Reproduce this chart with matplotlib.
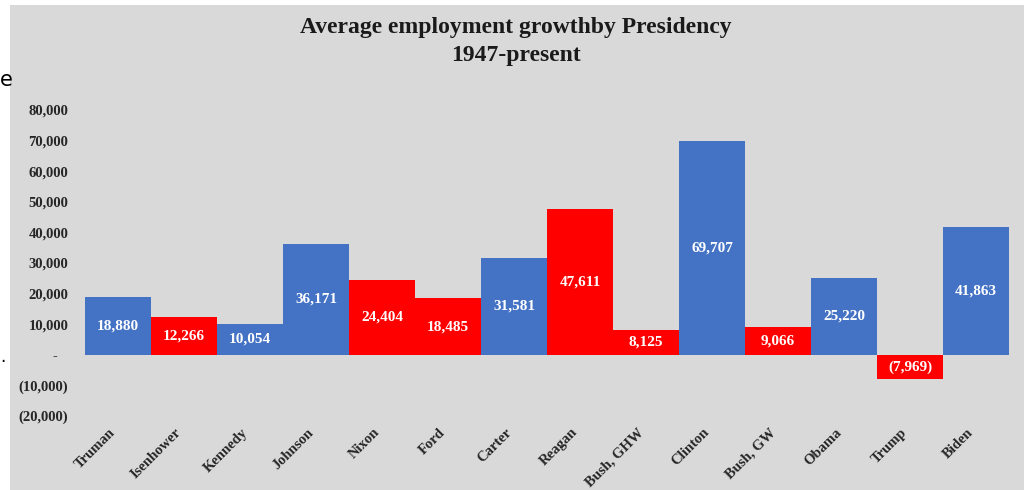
import matplotlib.pyplot as plt
from matplotlib.patches import Rectangle
from matplotlib.ticker import FuncFormatter
from matplotlib.transforms import ScaledTranslation

presidents = ["Truman", "Isenhower", "Kennedy", "Johnson", "Nixon", "Ford", "Carter",
              "Reagan", "Bush, GHW", "Clinton", "Bush, GW", "Obama", "Trump", "Biden"]
growth = [18880, 12266, 10054, 36171, 24404, 18485, 31581,
          47611, 8125, 69707, 9066, 25220, -7969, 41863]
party = ["D", "R", "D", "D", "R", "R", "D", "R", "R", "D", "R", "D", "R", "D"]

colors = {"D": "#4472c4", "R": "#ff0000"}
serif = ["Liberation Serif", "DejaVu Serif"]

fig = plt.figure(figsize=(10.24, 4.9), dpi=100)
fig.patch.set_facecolor("white")
fig.add_artist(Rectangle((10 / 1024, 0), 1, 485 / 490, transform=fig.transFigure,
                         facecolor="#d9d9d9", edgecolor="none", zorder=-10))

# clipped bits of the surrounding page
fig.text(0.0, 1 - 80 / 490, "e", fontsize=15, family="DejaVu Sans", va="center", ha="left")
fig.text(0.0, 1 - 357 / 490, ".", fontsize=12, family="DejaVu Sans", va="center", ha="left")

ax = fig.add_axes([85 / 1024, 1 - 416 / 490, 924 / 1024, 306 / 490])
ax.set_facecolor("none")

x = range(len(presidents))
bars = ax.bar(x, growth, width=1.0, color=[colors[p] for p in party], linewidth=0)

for b, v in zip(bars, growth):
    txt = f"{v:,}" if v >= 0 else f"({-v:,})"
    ax.text(b.get_x() + b.get_width() / 2, v / 2, txt, ha="center", va="center",
            color="white", fontsize=11, fontweight="bold", family=serif)

ax.set_xlim(-0.5, len(presidents) - 0.5)
ax.set_ylim(-20000, 80000)
ax.set_yticks(range(-20000, 80001, 10000))


def fmt(v, pos):
    if v == 0:
        return "-   "
    if v < 0:
        return f"({-int(v):,})"
    return f"{int(v):,}"


ax.yaxis.set_major_formatter(FuncFormatter(fmt))
ax.set_xticks(list(x))
ax.set_xticklabels(presidents, rotation=45, ha="right", va="top")
shift = ScaledTranslation(4 / 100, 0, fig.dpi_scale_trans)
for lab in ax.get_xticklabels():
    lab.set_transform(lab.get_transform() + shift)
for lab in ax.get_xticklabels() + ax.get_yticklabels():
    lab.set_family(serif)
    lab.set_fontweight("bold")
    lab.set_fontsize(10.5)
    lab.set_color("#262626")
ax.tick_params(axis="both", length=0)
ax.tick_params(axis="y", pad=12)
ax.tick_params(axis="x", pad=7)
for s in ax.spines.values():
    s.set_visible(False)

fig.text(516 / 1024, 1 - 28 / 490, "Average employment growthby Presidency", ha="center",
         va="center", fontsize=17, fontweight="bold", family=serif, color="#1a1a1a")
fig.text(516 / 1024, 1 - 55 / 490, "1947-present", ha="center", va="center",
         fontsize=17, fontweight="bold", family=serif, color="#1a1a1a")

fig.savefig("out.png", dpi=100)
